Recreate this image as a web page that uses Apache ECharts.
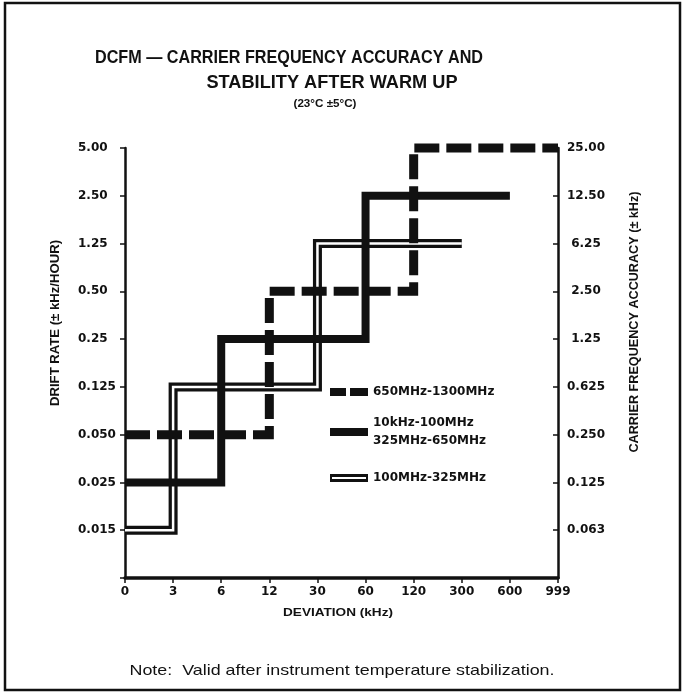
<!DOCTYPE html>
<html><head><meta charset="utf-8">
<script src="https://cdn.jsdelivr.net/npm/echarts@6/dist/echarts.min.js"></script>
<style>html,body{margin:0;padding:0;background:#fff}#chart{width:686px;height:694px}</style>
</head><body><div id="chart"></div>
<script>
// ---- axis tick labels (equally spaced, as printed) ----
const deviationTicks = ['0','3','6','12','30','60','120','300','600','999'];
const driftTicks = ['0.015','0.025','0.050','0.125','0.25','0.50','1.25','2.50','5.00'];
const accuracyTicks = ['0.063','0.125','0.250','0.625','1.25','2.50','6.25','12.50','25.00'];

// ---- series: deviation breakpoints (kHz) and drift level held between them ----
const seriesNames = ['650MHz-1300MHz', '10kHz-100MHz\n325MHz-650MHz', '100MHz-325MHz'];
const band650to1300Breaks = ['0','12','120','999'];
const band650to1300Drift  = ['0.050','0.50','5.00'];
const band10kTo100MBreaks = ['0','6','60','600'];
const band10kTo100MDrift  = ['0.025','0.25','2.50'];
const band100to325Breaks  = ['0','3','30','300'];
const band100to325Drift   = ['0.015','0.125','1.25'];

function stepPoints(breaks, levels) {
  const pts = [];
  for (let i = 0; i < levels.length; i++) {
    const y = driftTicks.indexOf(levels[i]) + 1;
    pts.push([deviationTicks.indexOf(breaks[i]), y]);
    pts.push([deviationTicks.indexOf(breaks[i + 1]), y]);
  }
  return pts;
}

const INK = '#111';
const ctx = document.createElement('canvas').getContext('2d');
function fit(text, font, width) { ctx.font = font; return width / ctx.measureText(text).width; }

function txt(text, x, y, fontSize, weight, width, align, rotation) {
  const font = weight + ' ' + fontSize + 'px "Liberation Sans", Arial, sans-serif';
  return {
    type: 'text', x: x, y: y, rotation: rotation || 0,
    scaleX: fit(text, font, width), scaleY: 1,
    style: { text: text, font: font, fill: INK,
      textAlign: align, align: align, textVerticalAlign: 'middle', verticalAlign: 'middle' }
  };
}

const tickFont = { fontFamily: '"DejaVu Sans", sans-serif', fontWeight: 'bold', fontSize: 12, color: INK };

const chart = echarts.init(document.getElementById('chart'), null, { renderer: 'canvas' });
const legendText = { fontFamily: '"DejaVu Sans", sans-serif', fontWeight: 'bold', fontSize: 12, color: INK, lineHeight: 17 };
const noBorder = { color: INK, borderWidth: 0, opacity: 1 };

chart.setOption({
  animation: false,
  backgroundColor: '#fff',
  grid: { left: 125, top: 148, width: 433, height: 430 },
  xAxis: {
    type: 'value', min: 0, max: 9, interval: 1,
    axisLine: { show: true, lineStyle: { color: INK, width: 3.5 } },
    axisTick: { show: true, length: 5, lineStyle: { color: INK, width: 1.5 } },
    axisLabel: Object.assign({ margin: 8, showMinLabel: true, showMaxLabel: true,
      formatter: v => deviationTicks[v] || '' }, tickFont),
    splitLine: { show: false }
  },
  yAxis: [
    {
      type: 'value', min: 0, max: 9, interval: 1, position: 'left',
      axisLine: { show: true, lineStyle: { color: INK, width: 2.5 } },
      axisTick: { show: true, length: 5, lineStyle: { color: INK, width: 1.5 } },
      axisLabel: Object.assign({ align: 'left', margin: 47, showMinLabel: true, showMaxLabel: true,
        formatter: v => (v === 0 ? '' : driftTicks[v - 1]) }, tickFont),
      splitLine: { show: false }
    },
    {
      type: 'value', min: 0, max: 9, interval: 1, position: 'right',
      axisLine: { show: true, lineStyle: { color: INK, width: 2.5 } },
      axisTick: { show: true, inside: true, length: 5, lineStyle: { color: INK, width: 1.5 } },
      axisLabel: Object.assign({ align: 'center', margin: 28, showMinLabel: true, showMaxLabel: true,
        formatter: v => (v === 0 ? '' : accuracyTicks[v - 1]) }, tickFont),
      splitLine: { show: false }
    }
  ],
  legend: [
    { selectedMode: false, padding: 0, left: 330, top: 383.5, itemWidth: 38, itemHeight: 8, textStyle: legendText,
      data: [{ name: seriesNames[0], icon: 'path://M0,0H16V8H0Z M20,0H38V8H20Z', itemStyle: noBorder }] },
    { selectedMode: false, padding: 0, left: 330, top: 410, itemWidth: 38, itemHeight: 8,
      textStyle: Object.assign({}, legendText, { lineHeight: 18, padding: [8, 0, 0, 0] }),
      data: [{ name: seriesNames[1], icon: 'rect', itemStyle: noBorder }] },
    { selectedMode: false, padding: 0, left: 330, top: 469.5, itemWidth: 38, itemHeight: 8, textStyle: legendText,
      data: [{ name: seriesNames[2], icon: 'path://M0,0H38V8H0Z M2,3V5H36V3Z', itemStyle: noBorder }] }
  ],
  series: [
    { name: seriesNames[2], type: 'line', data: stepPoints(band100to325Breaks, band100to325Drift),
      showSymbol: false, clip: false, silent: true, color: INK,
      lineStyle: { color: INK, width: 9, cap: 'butt', join: 'miter' } },
    { name: 'inner', type: 'line', data: stepPoints(band100to325Breaks, band100to325Drift),
      showSymbol: false, clip: false, silent: true,
      lineStyle: { color: '#fff', width: 2.5, cap: 'butt', join: 'miter' } },
    { name: seriesNames[1], type: 'line', data: stepPoints(band10kTo100MBreaks, band10kTo100MDrift),
      showSymbol: false, clip: false, silent: true, color: INK,
      lineStyle: { color: INK, width: 8, cap: 'butt', join: 'miter' } },
    { name: seriesNames[0], type: 'line', data: stepPoints(band650to1300Breaks, band650to1300Drift),
      showSymbol: false, clip: false, silent: true, color: INK,
      lineStyle: { color: INK, width: 9, type: [25, 7], cap: 'butt', join: 'miter' } }
  ],
  graphic: [
    { type: 'rect', shape: { x: 5, y: 3, width: 675, height: 687 },
      style: { fill: 'none', stroke: INK, lineWidth: 2.5 }, silent: true },
    txt('DCFM \u2014 CARRIER FREQUENCY ACCURACY AND', 95, 58, 18, 'bold', 388, 'left'),
    txt('STABILITY AFTER WARM UP', 332, 83, 18, 'bold', 251, 'center'),
    txt('(23\u00B0C \u00B15\u00B0C)', 325, 104, 11, 'bold', 63, 'center'),
    txt('DRIFT RATE (\u00B1 kHz/HOUR)', 56, 323, 12, 'bold', 166, 'center', Math.PI / 2),
    txt('CARRIER FREQUENCY ACCURACY (\u00B1 kHz)', 635, 322, 12, 'bold', 261, 'center', Math.PI / 2),
    txt('DEVIATION (kHz)', 338, 613, 11, 'bold', 110, 'center'),
    txt('Note:  Valid after instrument temperature stabilization.', 342, 671, 15, 'normal', 425, 'center')
  ]
});
</script></body></html>
